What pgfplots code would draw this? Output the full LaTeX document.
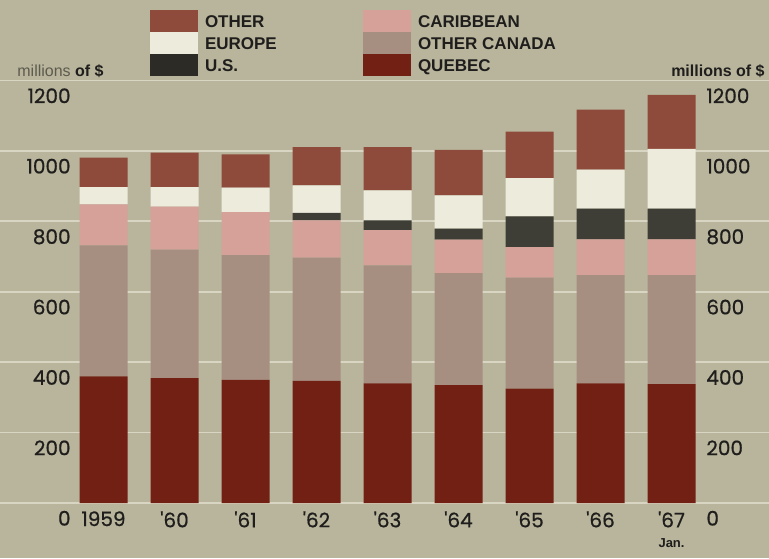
\documentclass[border=0pt]{standalone}
\usepackage{fontspec}
\setmainfont{Liberation Sans}
\newfontfamily\pop{Poppins}[FakeBold=0.7]
\usepackage{pgfplots}
\usepackage{pgfplotstable}
\pgfplotsset{compat=1.18}

\definecolor{bgc}{HTML}{B8B59C}
\definecolor{gridc}{HTML}{D8D6C2}
\definecolor{cother}{HTML}{8E4A3A}
\definecolor{ceurope}{HTML}{ECEBDC}
\definecolor{cus}{HTML}{3F3E36}
\definecolor{ccarib}{HTML}{D6A198}
\definecolor{cocan}{HTML}{A68F80}
\definecolor{cquebec}{HTML}{721F14}
\definecolor{ink}{HTML}{1F1E1C}
\definecolor{soft}{HTML}{5E5A4E}

% millions of $, stacked bottom to top
\pgfplotstableread{
x quebec ocanada carib us europe other
0 360 372 116 0 49 84
1 355 365 122 0 55 98
2 350 354 122 0 70 94
3 347 350 106 21 78 109
4 340 335 100 28 85 123
5 335 318 95 31 95 129
6 325 315 87 87 109 132
7 340 307 102 87 111 170
8 338 309 102 87 170 153
}\exports

\pgfplotsset{
  base/.style={
    scale only axis, width=384.5pt, height=211.25pt,
    at={(0pt,27.5pt)}, anchor=south west,
    xmin=-1.4577, xmax=9.373, ymin=0, ymax=1200,
    axis line style={draw=none}, major tick length=0pt,
    clip=false,
    ytick={0,200,...,1200},
    /pgf/number format/assume math mode=true,
    /pgf/number format/1000 sep={},
    yticklabel style={font=\pop\fontsize{10}{10}\selectfont, text=ink, inner sep=0pt},
  },
  key/.style={
    legend cell align=left,
    legend image code/.code={\fill[##1, draw=none] (0pt,-5.5pt) rectangle (24pt,5.5pt);},
    legend style={draw=none, fill=none, inner sep=0pt, outer sep=0pt,
      row sep=0pt, anchor=north west,
      nodes={inner sep=0pt, text height=8.5pt, text depth=2.5pt,
        font=\fontsize{8.5}{9}\selectfont\bfseries, text=ink},
      /tikz/every odd column/.append style={column sep=3.5pt}},
  }
}

\begin{document}
\begin{tikzpicture}
\fill[bgc] (0,0) rectangle (384.5pt,279pt);
\useasboundingbox (0,0) rectangle (384.5pt,279pt);

\begin{axis}[base,
    ybar stacked, bar width=24pt,
    ymajorgrids, grid style={gridc, line width=0.9pt},
    xtick={0,...,8},
    xticklabels={1959,'60,'61,'62,'63,'64,'65,'66,
      {'67\\[-1pt]{\normalfont\bfseries\fontsize{6.5}{6.5}\selectfont Jan.}}},
    xticklabel style={anchor=north, yshift=-4pt, inner sep=0pt, align=center,
      font=\pop\fontsize{10}{11}\selectfont, text=ink},
    yticklabel style={anchor=north east, xshift=35.5pt, yshift=-3.75pt},
    ylabel={\textcolor{soft}{millions} \textbf{of \$}},
    every axis y label/.style={at={(axis description cs:0,1)}, anchor=base west,
      xshift=8.5pt, yshift=2.25pt, inner sep=0pt,
      font=\fontsize{8}{8}\selectfont, text=ink},
  ]
  \addplot[fill=cquebec, draw=none] table[x=x, y=quebec] {\exports};
  \addplot[fill=cocan, draw=none] table[x=x, y=ocanada] {\exports};
  \addplot[fill=ccarib, draw=none] table[x=x, y=carib] {\exports};
  \addplot[fill=cus, draw=none] table[x=x, y=us] {\exports};
  \addplot[fill=ceurope, draw=none] table[x=x, y=europe] {\exports};
  \addplot[fill=cother, draw=none] table[x=x, y=other] {\exports};
\end{axis}

\begin{axis}[base, key,
    xtick=\empty,
    yticklabel pos=right,
    yticklabel style={anchor=north west, xshift=-31.5pt, yshift=-3.75pt},
    ylabel={\textbf{millions of \$}},
    every axis y label/.style={at={(axis description cs:1,1)}, anchor=base east,
      xshift=-2pt, yshift=2.25pt, inner sep=0pt,
      font=\fontsize{8}{8}\selectfont, text=ink},
    legend style={at={(axis description cs:0.47204,1.16686)}},
  ]
  \addlegendimage{fill=ccarib}\addlegendentry{CARIBBEAN}
  \addlegendimage{fill=cocan}\addlegendentry{OTHER CANADA}
  \addlegendimage{fill=cquebec}\addlegendentry{QUEBEC}
\end{axis}

\begin{axis}[base, key, hide axis,
    legend style={at={(axis description cs:0.19506,1.16686)}},
  ]
  \addlegendimage{fill=cother}\addlegendentry{OTHER}
  \addlegendimage{fill=ceurope}\addlegendentry{EUROPE}
  \addlegendimage{fill=cus!70!black}\addlegendentry{U.S.}
\end{axis}
\end{tikzpicture}
\end{document}
